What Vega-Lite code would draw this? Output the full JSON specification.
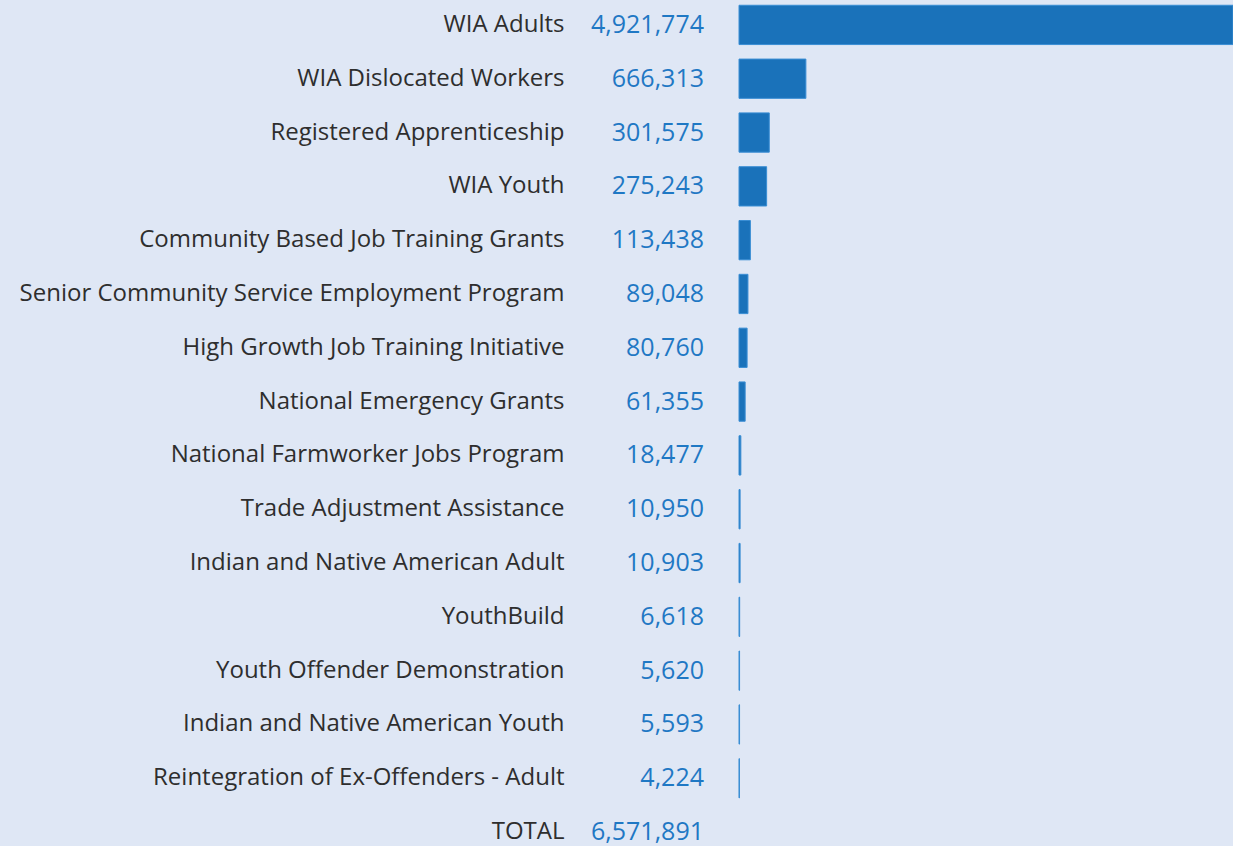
{
  "$schema": "https://vega.github.io/schema/vega-lite/v6.json",
  "autosize": {"type": "none"},
  "width": 494,
  "height": 846,
  "padding": {"left": 739, "top": 0, "right": 0, "bottom": 0},
  "background": "#dfe7f5",
  "config": {"view": {"stroke": null}, "font": "Open Sans"},
  "data": {"values": [
    {"program": "WIA Adults", "value": 4921774},
    {"program": "WIA Dislocated Workers", "value": 666313},
    {"program": "Registered Apprenticeship", "value": 301575},
    {"program": "WIA Youth", "value": 275243},
    {"program": "Community Based Job Training Grants", "value": 113438},
    {"program": "Senior Community Service Employment Program", "value": 89048},
    {"program": "High Growth Job Training Initiative", "value": 80760},
    {"program": "National Emergency Grants", "value": 61355},
    {"program": "National Farmworker Jobs Program", "value": 18477},
    {"program": "Trade Adjustment Assistance", "value": 10950},
    {"program": "Indian and Native American Adult", "value": 10903},
    {"program": "YouthBuild", "value": 6618},
    {"program": "Youth Offender Demonstration", "value": 5620},
    {"program": "Indian and Native American Youth", "value": 5593},
    {"program": "Reintegration of Ex-Offenders - Adult", "value": 4224},
    {"program": "TOTAL", "value": 6571891}
  ]},
  "encoding": {
    "y": {
      "field": "program", "type": "nominal", "sort": null,
      "scale": {"range": [-2, 859], "paddingInner": 0, "paddingOuter": 0},
      "axis": {"title": null, "domain": false, "ticks": false, "tickSize": 0, "labelPadding": 175,
               "labelFontSize": 24, "labelColor": "#2e2e2e", "labelFont": "Open Sans", "labelLimit": 700}
    }
  },
  "layer": [
    {
      "transform": [{"filter": "datum.program !== 'TOTAL'"}],
      "mark": {"type": "bar", "height": {"band": 0.73}, "color": "#1a72ba", "stroke": "#3a8ed4", "strokeWidth": 1},
      "encoding": {
        "x": {"field": "value", "type": "quantitative", "scale": {"domain": [0, 4921774], "nice": false}, "axis": null}
      }
    },
    {
      "mark": {"type": "text", "align": "right", "baseline": "middle", "dx": -35, "fontSize": 25, "color": "#1f78c4", "font": "Open Sans"},
      "encoding": {
        "x": {"datum": 0, "type": "quantitative"},
        "text": {"field": "value", "type": "quantitative", "format": ","}
      }
    }
  ]
}
